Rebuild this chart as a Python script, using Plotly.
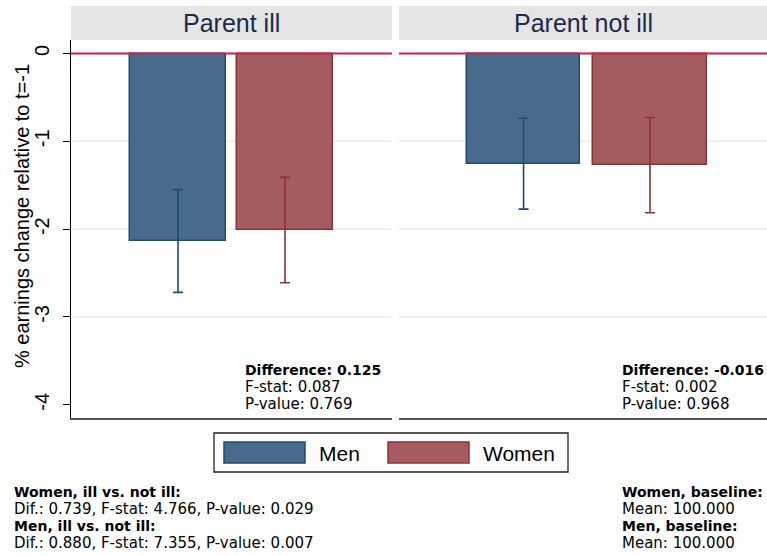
import plotly.graph_objects as go

# ---- data -------------------------------------------------------------
groups = ["Men", "Women"]
panels = ["Parent ill", "Parent not ill"]

mean_ill = [-2.135, -2.010]        # % change, parent ill
mean_not_ill = [-1.255, -1.271]    # % change, parent not ill
ci_ill = [0.585, 0.600]            # half-width of 95% CI
ci_not_ill = [0.517, 0.542]

diff_ill = ["Difference: 0.125", "F-stat: 0.087", "P-value: 0.769"]
diff_not_ill = ["Difference: -0.016", "F-stat: 0.002", "P-value: 0.968"]

notes_left = ["Women, ill vs. not ill:",
              "Dif.: 0.739, F-stat: 4.766, P-value: 0.029",
              "Men, ill vs. not ill:",
              "Dif.: 0.880, F-stat: 7.355, P-value: 0.007"]
notes_right = ["Women, baseline:", "Mean: 100.000",
               "Men, baseline:", "Mean: 100.000"]

y_ticks = [0, -1, -2, -3, -4]
grid_vals = [-1, -2, -3]
y_title = "% earnings change relative to t=-1"

# ---- styling ----------------------------------------------------------
W, H = 767, 556
ML, MR, MT, MB = 71, 0, 40, 138
fill = {"Men": "#486a8c", "Women": "#a55c61"}
edge = {"Men": "#1f4a75", "Women": "#8f3039"}
SANS = "Liberation Sans, Arial, sans-serif"
NOTE = "DejaVu Sans, sans-serif"
NOTE_SIZE, NOTE_BOLD_SIZE = 15, 14


def xpix(px):
    """Figure pixel column -> paper x."""
    return (px - ML) / (W - ML - MR)


def ypix(py):
    """Figure pixel row -> paper y."""
    return (H - MB - py) / (H - MT - MB)


def note(text, bold, x, y):
    return dict(text=f"<b>{text}</b>" if bold else text,
                xref="paper", yref="paper", x=x, y=y,
                xanchor="left", yanchor="middle", showarrow=False,
                font=dict(family=NOTE, color="black",
                          size=NOTE_BOLD_SIZE if bold else NOTE_SIZE))


fig = go.Figure()

panel_axes = [("x", "y", mean_ill, ci_ill), ("x2", "y2", mean_not_ill, ci_not_ill)]
for xa, ya, means, cis in panel_axes:
    for i, g in enumerate(groups):
        fig.add_trace(go.Bar(
            x=[i], y=[means[i]], width=0.9, xaxis=xa, yaxis=ya,
            name=g, showlegend=False,
            marker=dict(color=fill[g], line=dict(color=edge[g], width=1.5)),
            error_y=dict(type="data", array=[cis[i]], color=edge[g],
                         thickness=1.6, width=5),
        ))

yrange = [-4.151, 0.154]
common_x = dict(showline=True, linecolor="#555555", linewidth=1.5,
                showticklabels=False, ticks="", showgrid=False, zeroline=False,
                fixedrange=True)
fig.update_layout(
    width=W, height=H, autosize=False,
    margin=dict(l=ML, r=MR, t=MT, b=MB, pad=0),
    paper_bgcolor="white", plot_bgcolor="white",
    bargap=0,
    xaxis=dict(domain=[0, xpix(392)], range=[-1, 2], **common_x),
    xaxis2=dict(domain=[xpix(399), 1], range=[-0.985, 1.925], **common_x),
    yaxis=dict(range=yrange, tickvals=y_ticks, ticktext=[str(v) for v in y_ticks],
               tickangle=-90, ticks="outside", ticklen=7, tickwidth=1.2,
               tickcolor="black", showline=True, linecolor="black", linewidth=1.3,
               showgrid=False, zeroline=False, automargin=False,
               tickfont=dict(family=SANS, size=20, color="black"),
               ticklabelstandoff=6),
    yaxis2=dict(range=yrange, anchor="x2", showticklabels=False, ticks="",
                showline=False, showgrid=False, zeroline=False),
)

shapes = []
annotations = []
for k, (xa, ya) in enumerate([("x", "y"), ("x2", "y2")]):
    # light horizontal grid
    for gv in grid_vals:
        shapes.append(dict(type="line", xref=f"{xa} domain", yref=ya,
                           x0=0, x1=1, y0=gv, y1=gv, layer="below",
                           line=dict(color="#e6eff1", width=1.5)))
    # reference line at zero
    shapes.append(dict(type="line", xref=f"{xa} domain", yref=ya,
                       x0=0, x1=1, y0=0, y1=0, layer="above",
                       line=dict(color="#c8234a", width=2)))
    # strip header
    shapes.append(dict(type="rect", xref=f"{xa} domain", yref="paper",
                       x0=0, x1=1, y0=ypix(40), y1=ypix(6),
                       fillcolor="#e5e5e5", line=dict(width=0), layer="below"))
    annotations.append(dict(text=panels[k], xref=f"{xa} domain", yref="paper",
                            x=0.5, y=ypix(23), xanchor="center", yanchor="middle",
                            showarrow=False,
                            font=dict(family=SANS, size=25, color="#1c2a4d")))

# y-axis title
annotations.append(dict(text=y_title, xref="paper", yref="paper",
                        x=xpix(22), y=ypix(216), textangle=-90,
                        xanchor="center", yanchor="middle", showarrow=False,
                        font=dict(family=SANS, size=20, color="black")))

# test statistics inside each panel
for lines, xl in [(diff_ill, 243), (diff_not_ill, 620)]:
    for j, line in enumerate(lines):
        annotations.append(note(line, j == 0, xpix(xl), ypix(370 + 17 * j)))

# legend box
shapes.append(dict(type="rect", xref="paper", yref="paper",
                   x0=xpix(214), x1=xpix(568), y0=ypix(472), y1=ypix(433),
                   line=dict(color="#222222", width=1.3), fillcolor="white"))
for g, (x0, x1, xt) in zip(groups, [(224, 305, 317), (388, 469, 481)]):
    shapes.append(dict(type="rect", xref="paper", yref="paper",
                       x0=xpix(x0), x1=xpix(x1), y0=ypix(463), y1=ypix(442),
                       fillcolor=fill[g], line=dict(color=edge[g], width=1.5)))
    annotations.append(dict(text=g, xref="paper", yref="paper",
                            x=xpix(xt), y=ypix(453), xanchor="left",
                            yanchor="middle", showarrow=False,
                            font=dict(family=SANS, size=21, color="black")))

# notes under the chart
for col, xl in [(notes_left, 12), (notes_right, 620)]:
    for j, line in enumerate(col):
        annotations.append(note(line, j % 2 == 0, xpix(xl), ypix(492 + 16.9 * j)))

fig.update_layout(shapes=shapes, annotations=annotations)
fig.write_html("out.html")
